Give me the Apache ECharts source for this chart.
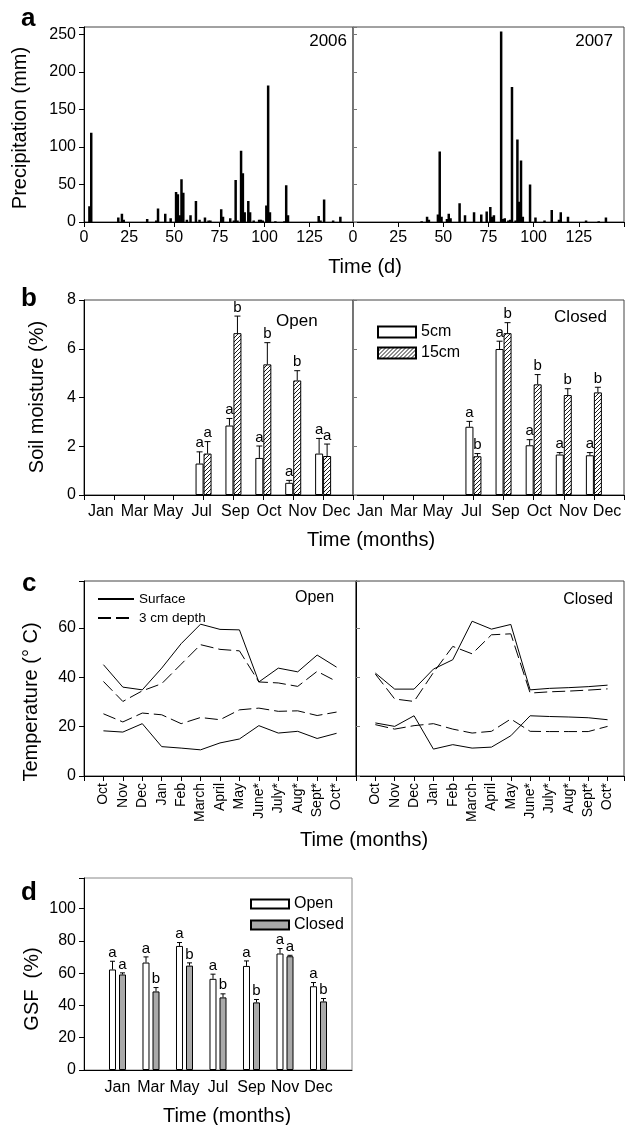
<!DOCTYPE html>
<html>
<head>
<meta charset="utf-8">
<script src="https://cdn.jsdelivr.net/npm/echarts@6/dist/echarts.min.js"></script>
<style>
  html, body { margin: 0; padding: 0; background: #fff; }
  #chart { width: 625px; height: 1125px; }
</style>
</head>
<body>
<div id="chart"></div>
<script>
const FONT = "'Liberation Sans', Arial, Helvetica, sans-serif";

// a: daily precipitation (mm), day of season
const rainDays2006 = [3, 4, 19, 21, 22, 35, 40, 41, 45, 48, 51, 52, 53, 54, 55, 57, 59, 62, 64, 67, 69, 70, 76, 77, 81,
  83, 84, 85, 87, 88, 89, 91, 92, 94, 97, 98, 99, 101, 102, 103, 106, 111, 112, 113, 130, 131, 133, 138, 142];
const rain2006 = [21, 119, 6, 11, 3, 4, 2, 18, 11, 5, 40, 37, 9, 57, 39, 3, 9, 28, 3, 6, 2, 2, 17, 7, 5,
  2, 56, 2, 95, 65, 13, 28, 13, 2, 3, 3, 2, 22, 182, 13, 1, 1, 49, 9, 8, 2, 30, 2, 7];
const rainDays2007 = [38, 41, 42, 47, 48, 49, 52, 53, 54, 59, 62, 67, 71, 74, 76, 77, 78, 82, 83, 84, 86, 87, 88, 90,
  91, 92, 93, 94, 98, 101, 106, 110, 114, 115, 119, 129, 136, 140];
const rain2007 = [1, 7, 3, 10, 94, 7, 4, 11, 5, 25, 9, 13, 10, 14, 20, 7, 9, 254, 4, 5, 2, 3, 180, 2,
  110, 27, 82, 7, 50, 6, 2, 16, 3, 13, 7, 2, 1, 6];

// b: soil moisture (%)
const moistMonths = ['Jan', 'Mar', 'May', 'Jul', 'Sep', 'Oct', 'Nov', 'Dec'];
const moistSlots = [4, 5, 6, 7, 8]; // Jul, Sep, Oct, Nov, Dec
const openShallow = [1.29, 2.85, 1.52, 0.50, 1.70];
const openShallowErr = [0.48, 0.29, 0.49, 0.10, 0.62];
const openShallowSig = ['a', 'a', 'a', 'a', 'a'];
const openDeep = [1.70, 6.64, 5.36, 4.70, 1.60];
const openDeepErr = [0.49, 0.70, 0.89, 0.40, 0.49];
const openDeepSig = ['a', 'b', 'b', 'b', 'a'];
const closedShallow = [2.80, 5.99, 2.04, 1.66, 1.63];
const closedShallowErr = [0.22, 0.32, 0.23, 0.08, 0.11];
const closedShallowSig = ['a', 'a', 'a', 'a', 'a'];
const closedDeep = [1.59, 6.64, 4.54, 4.10, 4.21];
const closedDeepErr = [0.11, 0.43, 0.40, 0.26, 0.21];
const closedDeepSig = ['b', 'b', 'b', 'b', 'b'];

// c: temperature (deg C)
const tempMonths = ['Oct', 'Nov', 'Dec', 'Jan', 'Feb', 'March', 'April', 'May', 'June*', 'July*', 'Aug*', 'Sept*', 'Oct*'];
const tempSlots = [1, 2, 3, 4, 5, 6, 7, 8, 9, 10, 11, 12, 13];
const openSurfHigh = [45.1, 36.0, 34.9, 43.7, 53.6, 61.5, 59.4, 59.2, 38.1, 43.7, 42.2, 49.0, 44.1];
const openSurfLow = [18.3, 17.8, 21.2, 11.9, 11.3, 10.6, 13.4, 15.0, 20.4, 17.4, 18.1, 15.2, 17.3];
const openDepthHigh = [38.3, 30.2, 34.5, 37.4, 45.3, 53.2, 51.3, 50.7, 38.1, 37.7, 36.3, 42.4, 38.3];
const openDepthLow = [25.2, 21.9, 25.5, 24.8, 21.2, 23.7, 22.8, 26.8, 27.5, 26.2, 26.4, 24.5, 25.9];
const closedSurfHigh = [41.7, 35.2, 35.2, 43.3, 47.1, 62.7, 59.5, 61.4, 34.9, 35.5, 35.8, 36.2, 36.8];
const closedSurfLow = [21.5, 20.1, 24.4, 10.9, 12.7, 11.3, 11.7, 16.3, 24.4, 24.1, 23.9, 23.6, 22.8];
const closedDepthHigh = [41.3, 31.2, 30.2, 41.9, 52.5, 49.5, 57.2, 57.6, 33.6, 34.1, 34.4, 34.8, 35.3];
const closedDepthLow = [20.8, 19.0, 20.4, 21.2, 19.0, 17.4, 18.1, 23.1, 18.1, 18.0, 18.0, 18.0, 20.1];

// d: GSF (%)
const gsfMonths = ['Jan', 'Mar', 'May', 'Jul', 'Sep', 'Nov', 'Dec'];
const gsfSlots = [1, 2, 3, 4, 5, 6, 7];
const gsfOpen = [62.3, 66.6, 76.9, 56.5, 64.5, 72.2, 51.9];
const gsfOpenErr = [5.1, 3.5, 2.1, 2.9, 3.1, 3.1, 2.3];
const gsfOpenSig = ['a', 'a', 'a', 'a', 'a', 'a', 'a'];
const gsfClosed = [59.2, 48.7, 64.7, 45.0, 41.9, 70.5, 42.5];
const gsfClosedErr = [1.0, 2.4, 1.7, 2.2, 1.8, 0.6, 1.8];
const gsfClosedSig = ['a', 'b', 'b', 'b', 'b', 'a', 'b'];

const zip = (xs, ys) => xs.map((x, i) => [x, ys[i]]);

function hatch() {
  const c = document.createElement('canvas');
  c.width = 4; c.height = 4;
  const g = c.getContext('2d');
  g.fillStyle = '#fff';
  g.fillRect(0, 0, 4, 4);
  g.strokeStyle = '#000';
  g.lineWidth = 0.9;
  g.beginPath();
  g.moveTo(0, 4); g.lineTo(4, 0);
  g.moveTo(-1, 1); g.lineTo(1, -1);
  g.moveTo(3, 5); g.lineTo(5, 3);
  g.stroke();
  return c;
}
const hatchFill = { image: hatch(), repeat: 'repeat' };

function errorBars(xi, yi, xs, vals, errs, sigs, dx, cap) {
  return {
    type: 'custom', xAxisIndex: xi, yAxisIndex: yi, z: 5, clip: false,
    data: xs.map((x, i) => [x, vals[i], errs[i]]),
    encode: { x: 0, y: 1 },
    renderItem: (params, api) => {
      const base = api.coord([api.value(0), api.value(1)]);
      const top = api.coord([api.value(0), api.value(1) + api.value(2)]);
      const cx = base[0] + dx;
      return {
        type: 'group', children: [
          { type: 'line', shape: { x1: cx, y1: base[1], x2: cx, y2: top[1] }, style: { stroke: '#000', lineWidth: 1 } },
          { type: 'line', shape: { x1: cx - cap, y1: top[1], x2: cx + cap, y2: top[1] }, style: { stroke: '#000', lineWidth: 1 } },
          { type: 'text', style: { text: sigs[params.dataIndex], x: cx, y: top[1] - 1, align: 'center', verticalAlign: 'bottom', font: '15px ' + FONT, fill: '#000' } }
        ]
      };
    }
  };
}

const tickLabel = { color: '#000', fontSize: 16, fontFamily: FONT };
const blackLine = { show: true, lineStyle: { color: '#000', width: 1 } };
const grayLine = { show: true, lineStyle: { color: '#777', width: 1 } };
const outTick = { show: true, inside: false, length: 5, lineStyle: { color: '#000' } };
const inTick = { show: true, inside: true, length: 4, lineStyle: { color: '#777' } };
const frame = { show: true, borderColor: '#444', borderWidth: 1, backgroundColor: 'transparent', outerBoundsMode: 'none' };

const grids = [
  { left: 84, top: 27, width: 269, height: 195 },
  { left: 353, top: 27, width: 271, height: 195 },
  { left: 84, top: 300, width: 269, height: 195 },
  { left: 353, top: 300, width: 271, height: 195 },
  { left: 84, top: 581, width: 272, height: 195 },
  { left: 356, top: 581, width: 268, height: 195 },
  { left: 84, top: 878, width: 268, height: 192, borderColor: '#888' }
].map(g => Object.assign({}, frame, g));

const rainX = (gi, max) => ({
  type: 'value', gridIndex: gi, min: 0, max: max, interval: 25,
  axisLine: blackLine, axisTick: outTick, splitLine: { show: false },
  axisLabel: Object.assign({ margin: 8, formatter: v => (v % 25 || v > 140 ? '' : v) }, tickLabel)
});
const slotX = (gi) => ({
  type: 'value', gridIndex: gi, min: 0, max: 9, interval: 1,
  axisLine: blackLine, axisTick: outTick, splitLine: { show: false }, axisLabel: { show: false }
});
const monthX = (gi) => ({
  type: 'category', gridIndex: gi, data: moistMonths, position: 'bottom',
  axisLine: { show: false }, axisTick: { show: false }, splitLine: { show: false },
  axisLabel: Object.assign({ margin: 9, interval: 0 }, tickLabel)
});
const tempX = (gi, max) => ({
  type: 'value', gridIndex: gi, min: 0, max: max, interval: 1,
  axisLine: blackLine, axisTick: outTick, splitLine: { show: false },
  axisLabel: Object.assign({}, tickLabel, { fontSize: 14, rotate: 90, margin: 7, formatter: v => tempMonths[v - 1] || '' })
});

const leftY = (gi, max, step) => ({
  type: 'value', gridIndex: gi, min: 0, max: max, interval: step,
  axisLine: blackLine, axisTick: outTick, splitLine: { show: false },
  axisLabel: Object.assign({ margin: 8, formatter: v => (v % step ? '' : v) }, tickLabel)
});
const rightY = (gi, max, step, line) => ({
  type: 'value', gridIndex: gi, min: 0, max: max, interval: step,
  axisLine: line, axisTick: inTick, splitLine: { show: false }, axisLabel: { show: false }
});

const xAxes = [
  rainX(0, 149), rainX(1, 150),
  slotX(2), monthX(2), slotX(3), monthX(3),
  tempX(4, 14), tempX(5, 13.85),
  {
    type: 'value', gridIndex: 6, min: 0, max: 8, interval: 1,
    axisLine: blackLine, axisTick: { show: false }, splitLine: { show: false },
    axisLabel: Object.assign({ margin: 10, formatter: v => gsfMonths[v - 1] || '' }, tickLabel)
  }
];
const yAxes = [
  leftY(0, 260, 50), rightY(1, 260, 50, grayLine),
  leftY(2, 8, 2), rightY(3, 8, 2, grayLine),
  leftY(4, 79, 20), rightY(5, 79, 20, blackLine),
  leftY(6, 119, 20)
];

const rainBar = (xi, yi, days, vals) => ({
  type: 'bar', xAxisIndex: xi, yAxisIndex: yi, data: zip(days, vals),
  barWidth: 2.5, itemStyle: { color: '#000' }
});
const openBox = { color: '#fff', borderColor: '#000', borderWidth: 1 };
const hatchBox = { color: hatchFill, borderColor: '#000', borderWidth: 1 };
const moistBar = (name, xi, yi, vals, style) => ({
  type: 'bar', name: name, xAxisIndex: xi, yAxisIndex: yi, data: zip(moistSlots, vals),
  barWidth: 8, barGap: '0%', itemStyle: style
});
const tempLine = (name, xi, yi, vals, dashed) => ({
  type: 'line', name: name, xAxisIndex: xi, yAxisIndex: yi, data: zip(tempSlots, vals),
  symbol: 'none', lineStyle: { color: '#000', width: 1, type: dashed ? [13, 5] : 'solid' },
  itemStyle: { color: '#000' }
});

const series = [
  rainBar(0, 0, rainDays2006, rain2006),
  rainBar(1, 1, rainDays2007, rain2007),

  moistBar('5cm', 2, 2, openShallow, openBox),
  moistBar('15cm', 2, 2, openDeep, hatchBox),
  errorBars(2, 2, moistSlots, openShallow, openShallowErr, openShallowSig, -4, 3),
  errorBars(2, 2, moistSlots, openDeep, openDeepErr, openDeepSig, 4, 3),
  moistBar('5cm', 4, 3, closedShallow, openBox),
  moistBar('15cm', 4, 3, closedDeep, hatchBox),
  errorBars(4, 3, moistSlots, closedShallow, closedShallowErr, closedShallowSig, -4, 3),
  errorBars(4, 3, moistSlots, closedDeep, closedDeepErr, closedDeepSig, 4, 3),

  tempLine('Surface', 6, 4, openSurfHigh, false),
  tempLine('Surface', 6, 4, openSurfLow, false),
  tempLine('3 cm depth', 6, 4, openDepthHigh, true),
  tempLine('3 cm depth', 6, 4, openDepthLow, true),
  tempLine('Surface', 7, 5, closedSurfHigh, false),
  tempLine('Surface', 7, 5, closedSurfLow, false),
  tempLine('3 cm depth', 7, 5, closedDepthHigh, true),
  tempLine('3 cm depth', 7, 5, closedDepthLow, true),

  { type: 'bar', name: 'Open', xAxisIndex: 8, yAxisIndex: 6, data: zip(gsfSlots, gsfOpen), barWidth: 7, barGap: '43%', itemStyle: openBox },
  { type: 'bar', name: 'Closed', xAxisIndex: 8, yAxisIndex: 6, data: zip(gsfSlots, gsfClosed), barWidth: 7, barGap: '43%', itemStyle: { color: '#a9a9a9', borderColor: '#000', borderWidth: 1 } },
  errorBars(8, 6, gsfSlots, gsfOpen, gsfOpenErr, gsfOpenSig, -5, 2.5),
  errorBars(8, 6, gsfSlots, gsfClosed, gsfClosedErr, gsfClosedSig, 5, 2.5)
];

const legendText = (size) => ({ color: '#000', fontSize: size, fontFamily: FONT });
const legends = [
  { data: ['5cm', '15cm'], icon: 'rect', left: 372, top: 319, orient: 'vertical', itemWidth: 38, itemHeight: 11, itemGap: 5, selectedMode: false, textStyle: legendText(16) },
  { data: ['Surface', '3 cm depth'], left: 92, top: 587, orient: 'vertical', itemWidth: 36, itemHeight: 10, itemGap: 5, selectedMode: false,
    itemStyle: { opacity: 0 }, textStyle: legendText(13.5) },
  { data: ['Open', 'Closed'], icon: 'rect', left: 245, top: 891, orient: 'vertical', itemWidth: 38, itemHeight: 9, itemGap: 5, selectedMode: false, textStyle: legendText(16) }
];

const txt = (text, x, y, size, opts) => Object.assign({
  type: 'text', x: x, y: y, silent: true,
  style: { text: text, font: size + 'px ' + FONT, fill: '#000', align: 'left', verticalAlign: 'middle' }
}, opts || {});
const withStyle = (el, style) => { Object.assign(el.style, style); return el; };
const vtitle = (text, x, y) => withStyle(txt(text, x, y, 20, { rotation: Math.PI / 2 }), { align: 'center' });
const htitle = (text, x, y) => withStyle(txt(text, x, y, 20), { align: 'center' });
const panel = (text, x, y) => withStyle(txt(text, x, y, 26), { font: 'bold 26px ' + FONT });

const graphics = [
  panel('a', 21, 19), panel('b', 21, 299), panel('c', 22, 584), panel('d', 21, 893),
  withStyle(txt('2006', 347, 41, 17), { align: 'right' }),
  withStyle(txt('2007', 613, 41, 17), { align: 'right' }),
  txt('Open', 276, 321, 17),
  withStyle(txt('Closed', 607, 317, 17), { align: 'right' }),
  txt('Open', 295, 598, 16),
  withStyle(txt('Closed', 613, 600, 16), { align: 'right' }),
  vtitle('Precipitation (mm)', 20, 128),
  vtitle('Soil moisture (%)', 37, 397),
  vtitle('Temperature (° C)', 31, 702),
  vtitle('GSF  (%)', 32, 989),
  htitle('Time (d)', 365, 267),
  htitle('Time (months)', 371, 540),
  htitle('Time (months)', 364, 840),
  htitle('Time (months)', 227, 1116)
];

const chart = echarts.init(document.getElementById('chart'), null, { renderer: 'canvas' });
chart.setOption({
  animation: false,
  backgroundColor: '#fff',
  textStyle: { fontFamily: FONT },
  grid: grids,
  xAxis: xAxes,
  yAxis: yAxes,
  legend: legends,
  series: series,
  graphic: graphics
});
</script>
</body>
</html>
